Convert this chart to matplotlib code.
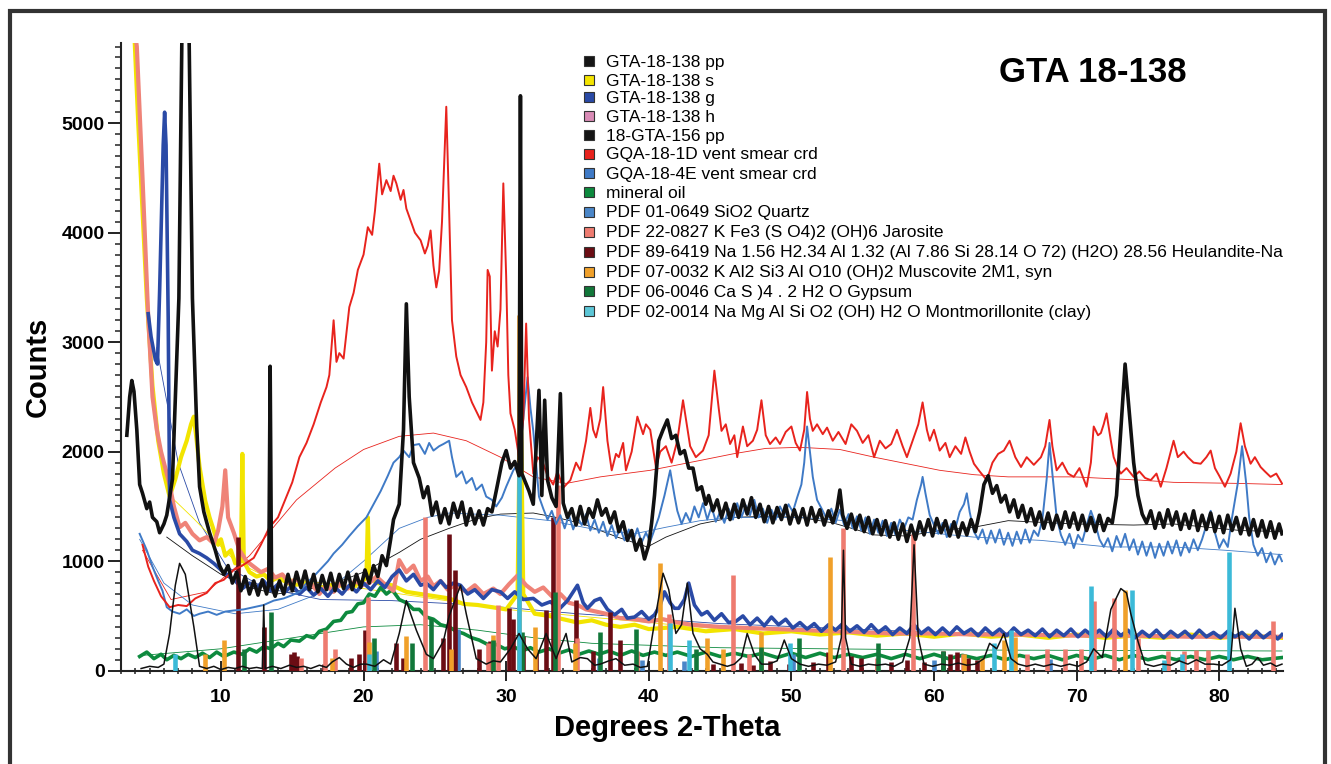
import matplotlib
matplotlib.use("Agg")
from matplotlib import pyplot as plt
from matplotlib.ticker import MultipleLocator
from matplotlib.patches import Rectangle
from matplotlib.lines import Line2D

plt.rcParams['font.family'] = ['Liberation Sans', 'DejaVu Sans']

# ---- measured patterns (2-theta, counts) ----
pp156 = [(3.4, 2150), (3.6, 2500), (3.75, 2650), (3.9, 2550), (4.1, 2200), (4.3, 1700), (4.5, 1620), (4.8, 1480),
         (5.0, 1540), (5.2, 1400), (5.5, 1360), (5.7, 1260), (6.0, 1340), (6.2, 1420), (6.6, 1750), (7.05, 3400),
         (7.5, 8500), (8.0, 3400), (8.3, 2230), (8.5, 1680), (8.8, 1450), (9.2, 1260), (9.6, 1100), (9.9, 960),
         (10.2, 880), (10.5, 960), (10.8, 800), (11.1, 900), (11.4, 730), (11.7, 860), (12.0, 700), (12.3, 820),
         (12.6, 690), (12.9, 830), (13.2, 700), (13.35, 790), (13.45, 2780), (13.55, 780), (13.8, 680),
         (14.1, 820), (14.4, 700), (14.7, 880), (15.0, 730), (15.3, 900), (15.6, 760), (15.9, 910), (16.2, 740),
         (16.5, 880), (16.8, 720), (17.1, 870), (17.4, 740), (17.7, 890), (18.0, 730), (18.3, 880), (18.6, 750),
         (18.9, 900), (19.2, 740), (19.5, 880), (19.8, 760), (20.1, 920), (20.4, 800), (20.7, 960), (21.0, 860),
         (21.3, 1050), (21.6, 960), (21.9, 1200), (22.1, 1380), (22.5, 1520), (22.8, 2200), (23.0, 3350),
         (23.2, 2500), (23.5, 1900), (23.9, 1760), (24.2, 1580), (24.5, 1680), (24.8, 1420), (25.1, 1540),
         (25.4, 1350), (25.7, 1480), (26.0, 1340), (26.3, 1530), (26.6, 1400), (26.9, 1540), (27.2, 1330),
         (27.5, 1480), (27.8, 1340), (28.1, 1460), (28.4, 1330), (28.7, 1480), (29.0, 1450), (29.3, 1640),
         (29.7, 1900), (30.0, 2010), (30.3, 1850), (30.6, 1910), (30.9, 1780), (31.0, 5250), (31.1, 1800),
         (31.6, 1640), (31.9, 1520), (32.3, 2560), (32.5, 1600), (32.7, 2470), (32.9, 1740), (33.2, 1580),
         (33.5, 1500), (33.8, 2530), (34.0, 1530), (34.3, 1400), (34.6, 1480), (34.9, 1330), (35.2, 1500),
         (35.5, 1340), (35.8, 1480), (36.1, 1400), (36.4, 1560), (36.7, 1420), (37.0, 1480), (37.3, 1350),
         (37.6, 1450), (37.9, 1270), (38.2, 1360), (38.5, 1190), (38.8, 1280), (39.1, 1100), (39.4, 1200),
         (39.7, 1020), (40.0, 1150), (40.2, 1350), (40.4, 1600), (40.7, 2100), (41.0, 2200), (41.3, 2290),
         (41.6, 2120), (41.9, 2150), (42.2, 1980), (42.5, 2010), (42.8, 1850), (43.1, 1850), (43.4, 1650),
         (43.7, 1680), (44.0, 1520), (44.2, 1600), (44.5, 1460), (44.8, 1560), (45.1, 1400), (45.4, 1530),
         (45.7, 1380), (46.0, 1520), (46.3, 1400), (46.6, 1560), (46.9, 1430), (47.2, 1580), (47.5, 1400),
         (47.8, 1520), (48.1, 1360), (48.4, 1500), (48.7, 1350), (49.0, 1490), (49.3, 1380), (49.6, 1510),
         (49.9, 1340), (50.2, 1470), (50.5, 1350), (50.8, 1480), (51.1, 1330), (51.4, 1490), (51.7, 1360),
         (52.0, 1470), (52.3, 1330), (52.6, 1460), (52.9, 1350), (53.2, 1480), (53.4, 1650), (53.6, 1420),
         (53.9, 1300), (54.2, 1430), (54.5, 1290), (54.8, 1420), (55.1, 1270), (55.4, 1400), (55.7, 1250),
         (56.0, 1380), (56.3, 1240), (56.6, 1370), (56.9, 1220), (57.2, 1350), (57.5, 1200), (57.8, 1340),
         (58.1, 1180), (58.4, 1330), (58.7, 1200), (59.0, 1360), (59.3, 1240), (59.6, 1380), (59.9, 1230),
         (60.2, 1390), (60.5, 1260), (60.8, 1370), (61.1, 1230), (61.4, 1360), (61.7, 1220), (62.0, 1350),
         (62.3, 1240), (62.6, 1380), (62.9, 1270), (63.2, 1450), (63.5, 1700), (63.8, 1780), (64.1, 1620),
         (64.4, 1690), (64.7, 1540), (65.0, 1600), (65.3, 1450), (65.6, 1560), (65.9, 1400), (66.2, 1510),
         (66.5, 1360), (66.8, 1480), (67.1, 1330), (67.4, 1450), (67.7, 1300), (68.0, 1440), (68.3, 1290),
         (68.6, 1420), (68.9, 1300), (69.2, 1450), (69.5, 1310), (69.8, 1440), (70.1, 1290), (70.4, 1420),
         (70.7, 1280), (71.0, 1400), (71.3, 1270), (71.6, 1420), (71.9, 1280), (72.2, 1390), (72.5, 1350),
         (72.8, 1600), (73.1, 2200), (73.4, 2800), (73.7, 2350), (74.0, 1900), (74.3, 1600), (74.6, 1430),
         (74.9, 1350), (75.2, 1460), (75.5, 1300), (75.8, 1440), (76.1, 1310), (76.4, 1470), (76.7, 1330),
         (77.0, 1450), (77.3, 1290), (77.6, 1430), (77.9, 1300), (78.2, 1460), (78.5, 1280), (78.8, 1420),
         (79.1, 1290), (79.4, 1440), (79.7, 1270), (80.0, 1410), (80.3, 1260), (80.6, 1420), (80.9, 1280),
         (81.2, 1400), (81.5, 1250), (81.8, 1390), (82.1, 1240), (82.4, 1380), (82.7, 1230), (83.0, 1370),
         (83.3, 1220), (83.6, 1360), (83.9, 1210), (84.2, 1340), (84.4, 1250)]

pp138 = [(4.4, 20), (5.0, 40), (5.6, 30), (6.0, 60), (6.4, 340), (6.8, 780), (7.1, 980), (7.5, 880), (7.8, 640),
         (8.1, 400), (8.5, 40), (9.0, 20), (9.5, 40), (10.0, 10), (10.5, 30), (11.0, 20), (11.5, 40), (12.0, 20),
         (12.5, 30), (12.9, 20), (13.0, 600), (13.1, 20), (13.6, 40), (14.2, 20), (14.8, 50), (15.3, 30), (15.8, 40),
         (16.3, 20), (16.9, 50), (17.4, 30), (17.8, 80), (18.3, 120), (18.8, 60), (19.3, 30), (19.8, 60), (20.2, 60),
         (20.8, 40), (21.4, 100), (21.9, 60), (22.5, 340), (23.0, 640), (23.3, 520), (23.7, 370), (24.4, 150),
         (24.9, 110), (25.6, 270), (26.0, 500), (26.8, 780), (27.2, 520), (27.9, 110), (28.6, 60), (29.1, 90),
         (29.6, 80), (30.3, 200), (30.9, 340), (31.5, 200), (32.1, 110), (32.8, 340), (33.5, 110), (34.2, 340),
         (34.6, 80), (35.2, 120), (35.7, 110), (36.2, 50), (36.6, 60), (37.2, 90), (37.7, 110), (38.3, 50),
         (38.9, 60), (39.4, 30), (39.9, 40), (40.5, 520), (41.0, 890), (41.4, 740), (41.9, 340), (42.3, 420),
         (42.7, 800), (43.1, 340), (43.6, 200), (44.1, 150), (44.5, 80), (45.0, 60), (45.5, 40), (46.0, 60),
         (46.5, 120), (46.9, 340), (47.4, 150), (47.9, 60), (48.4, 60), (49.0, 90), (49.5, 280), (50.0, 110),
         (50.6, 60), (51.2, 40), (51.9, 60), (52.5, 50), (53.1, 80), (53.5, 300), (53.65, 1100), (53.8, 300),
         (54.2, 60), (54.8, 40), (55.4, 60), (56.0, 50), (56.6, 60), (57.2, 40), (57.8, 80), (58.3, 300),
         (58.6, 1150), (58.9, 300), (59.3, 60), (59.9, 40), (60.5, 60), (61.1, 50), (61.7, 70), (62.3, 50),
         (62.9, 60), (63.5, 110), (63.9, 250), (64.4, 200), (64.9, 340), (65.4, 110), (65.9, 60), (66.5, 40),
         (67.1, 60), (67.7, 40), (68.3, 60), (68.9, 40), (69.5, 60), (70.1, 40), (70.7, 80), (71.2, 200),
         (71.8, 120), (72.4, 560), (73.1, 750), (73.5, 710), (73.8, 520), (74.3, 270), (74.8, 60), (75.4, 40),
         (76.0, 60), (76.6, 50), (77.2, 90), (77.8, 60), (78.4, 100), (79.0, 60), (79.6, 60), (80.2, 50),
         (80.8, 100), (81.1, 570), (81.5, 200), (81.9, 40), (82.3, 60), (82.7, 120), (83.1, 50), (83.6, 70),
         (84.0, 40), (84.4, 60)]

vent_1d = [(4.5, 1150), (4.9, 950), (5.3, 820), (5.8, 680), (6.4, 580), (7.0, 600), (7.6, 590), (8.2, 660),
           (9.0, 710), (9.6, 800), (10.2, 830), (10.9, 920), (11.5, 960), (12.3, 1030), (12.8, 1150), (13.4, 1310),
           (14.0, 1400), (14.5, 1560), (15.0, 1720), (15.5, 1950), (16.0, 2080), (16.5, 2250), (17.0, 2450),
           (17.4, 2590), (17.6, 2700), (17.9, 3200), (18.1, 2820), (18.3, 2900), (18.6, 2850), (19.0, 3320),
           (19.3, 3450), (19.6, 3660), (20.0, 3800), (20.3, 4050), (20.6, 3980), (20.8, 4200), (21.1, 4630),
           (21.3, 4350), (21.6, 4480), (21.9, 4380), (22.1, 4520), (22.3, 4450), (22.6, 4300), (22.8, 4390),
           (23.0, 4220), (23.3, 4110), (23.6, 4000), (24.0, 3930), (24.3, 3810), (24.5, 3880), (24.7, 4020),
           (24.9, 3700), (25.1, 3500), (25.3, 3650), (25.5, 4100), (25.8, 5150), (26.0, 4200), (26.2, 3200),
           (26.5, 2870), (26.8, 2700), (27.2, 2590), (27.6, 2450), (28.2, 2290), (28.4, 2450), (28.6, 3000),
           (28.7, 3660), (28.85, 3600), (29.0, 2740), (29.2, 3100), (29.4, 2960), (29.6, 3300), (29.8, 4450),
           (30.0, 3600), (30.15, 2700), (30.3, 2350), (30.6, 2200), (30.9, 1950), (31.2, 2300), (31.4, 3170),
           (31.6, 2300), (31.9, 1800), (32.2, 1950), (32.6, 1890), (32.9, 1780), (33.3, 1700), (33.6, 1820),
           (34.0, 1670), (34.5, 1740), (34.9, 1900), (35.2, 1830), (35.6, 2100), (35.9, 2400), (36.1, 2200),
           (36.3, 2130), (36.6, 2300), (36.8, 2590), (37.1, 2100), (37.4, 1830), (37.7, 1980), (37.9, 1950),
           (38.2, 2080), (38.4, 1830), (38.8, 2000), (39.2, 2320), (39.6, 2160), (39.8, 2250), (40.1, 2200),
           (40.5, 1860), (40.8, 2000), (41.2, 2050), (41.6, 1900), (42.0, 2100), (42.4, 2470), (42.6, 2300),
           (42.9, 2050), (43.3, 1950), (43.8, 2010), (44.2, 2150), (44.6, 2740), (44.9, 2400), (45.1, 2190),
           (45.4, 2250), (45.7, 2070), (46.0, 2150), (46.2, 1950), (46.6, 2230), (46.9, 2050), (47.3, 2100),
           (47.6, 2200), (47.9, 2470), (48.2, 2150), (48.5, 2070), (48.9, 2130), (49.2, 2070), (49.6, 2180),
           (50.0, 2230), (50.3, 2080), (50.6, 2010), (50.9, 2200), (51.1, 2545), (51.3, 2300), (51.5, 2190),
           (51.8, 2250), (52.2, 2160), (52.5, 2220), (52.9, 2100), (53.3, 2180), (53.8, 2070), (54.2, 2250),
           (54.6, 2190), (55.0, 2080), (55.4, 2150), (55.8, 1950), (56.2, 2100), (56.6, 2030), (57.0, 2070),
           (57.4, 2200), (57.8, 2050), (58.1, 1950), (58.5, 2100), (58.9, 2250), (59.2, 2450), (59.5, 2200),
           (59.7, 2100), (60.0, 2200), (60.4, 2010), (60.8, 2080), (61.1, 1950), (61.5, 2050), (61.9, 1980),
           (62.2, 2130), (62.5, 2000), (62.8, 1890), (63.2, 1820), (63.7, 1740), (64.1, 1900), (64.5, 1980),
           (64.9, 2010), (65.3, 2100), (65.7, 1950), (66.1, 1860), (66.5, 1950), (67.0, 1880), (67.5, 1950),
           (67.8, 2050), (68.1, 2290), (68.3, 2050), (68.6, 1830), (69.0, 1900), (69.4, 1800), (69.8, 1770),
           (70.2, 1850), (70.7, 1680), (71.0, 1900), (71.2, 2230), (71.5, 2150), (71.7, 2170), (71.9, 2250),
           (72.1, 2350), (72.4, 2100), (72.6, 1950), (72.9, 1850), (73.1, 1800), (73.5, 1850), (74.0, 1770),
           (74.4, 1820), (74.8, 1760), (75.2, 1740), (75.6, 1800), (75.9, 1680), (76.3, 1850), (76.6, 2000),
           (76.8, 2100), (77.1, 1950), (77.5, 2000), (77.8, 1950), (78.2, 1900), (78.7, 1890), (79.1, 1950),
           (79.4, 2010), (79.7, 1850), (80.0, 1780), (80.4, 1680), (80.8, 1800), (81.2, 2000), (81.5, 2260),
           (81.8, 2050), (82.2, 1890), (82.5, 1950), (82.9, 1860), (83.2, 1820), (83.6, 1770), (84.0, 1800),
           (84.4, 1710)]

vent_4e = [(4.3, 1250), (4.5, 1190), (4.8, 1100), (5.2, 950), (5.6, 820), (5.9, 730), (6.2, 580), (6.6, 540),
           (7.1, 520), (7.6, 560), (8.1, 500), (8.5, 520), (9.1, 540), (9.7, 510), (10.3, 540), (10.9, 550),
           (11.6, 560), (12.3, 580), (13.0, 600), (13.7, 640), (14.4, 660), (15.0, 690), (15.5, 720), (16.0, 800),
           (16.5, 860), (17.0, 930), (17.5, 1000), (17.9, 1070), (18.5, 1150), (19.0, 1230), (19.6, 1320),
           (20.2, 1400), (20.7, 1520), (21.2, 1640), (21.7, 1780), (22.1, 1900), (22.5, 1950), (22.8, 2010),
           (23.2, 1950), (23.5, 2060), (23.9, 2070), (24.3, 1980), (24.6, 2080), (24.9, 2010), (25.3, 2050),
           (25.6, 2070), (26.0, 2100), (26.2, 1950), (26.5, 1770), (26.9, 1820), (27.2, 1710), (27.6, 1760),
           (27.9, 1650), (28.3, 1700), (28.6, 1590), (29.0, 1560), (29.3, 1500), (29.7, 1580), (30.0, 1680),
           (30.5, 1830), (30.9, 1900), (31.2, 2300), (31.5, 2680), (31.7, 2400), (31.9, 2190), (32.3, 1590),
           (32.6, 1480), (32.9, 1380), (33.2, 1460), (33.5, 1340), (33.8, 1420), (34.1, 1300), (34.4, 1420),
           (34.7, 1290), (35.0, 1400), (35.3, 1330), (35.6, 1430), (35.9, 1280), (36.2, 1380), (36.5, 1260),
           (36.8, 1360), (37.1, 1230), (37.4, 1330), (37.7, 1210), (38.0, 1300), (38.3, 1190), (38.6, 1290),
           (38.9, 1180), (39.2, 1300), (39.5, 1170), (39.8, 1260), (40.1, 1180), (40.4, 1290), (40.7, 1400),
           (41.1, 1600), (41.5, 1830), (41.8, 1600), (42.0, 1460), (42.3, 1340), (42.6, 1440), (42.9, 1360),
           (43.2, 1500), (43.5, 1400), (43.8, 1530), (44.1, 1380), (44.4, 1500), (44.7, 1360), (45.0, 1450),
           (45.3, 1350), (45.6, 1480), (45.9, 1380), (46.2, 1530), (46.5, 1400), (46.8, 1510), (47.1, 1420),
           (47.4, 1560), (47.7, 1400), (48.0, 1480), (48.3, 1350), (48.6, 1470), (48.9, 1380), (49.2, 1500),
           (49.5, 1420), (49.8, 1520), (50.1, 1450), (50.4, 1580), (50.7, 1700), (50.9, 1900), (51.1, 2230),
           (51.3, 2000), (51.5, 1770), (51.8, 1560), (52.2, 1460), (52.5, 1380), (52.8, 1480), (53.1, 1350),
           (53.4, 1470), (53.7, 1330), (54.0, 1430), (54.3, 1300), (54.6, 1410), (54.9, 1280), (55.2, 1400),
           (55.5, 1250), (55.8, 1380), (56.1, 1260), (56.4, 1370), (56.7, 1230), (57.0, 1350), (57.3, 1240),
           (57.6, 1380), (57.9, 1300), (58.2, 1400), (58.5, 1380), (58.8, 1560), (59.1, 1700), (59.2, 1770),
           (59.4, 1620), (59.7, 1420), (60.0, 1330), (60.3, 1250), (60.6, 1350), (60.9, 1220), (61.2, 1340),
           (61.5, 1300), (61.8, 1450), (62.1, 1520), (62.3, 1620), (62.5, 1450), (62.8, 1270), (63.1, 1200),
           (63.4, 1290), (63.7, 1160), (64.0, 1280), (64.3, 1170), (64.6, 1290), (64.9, 1150), (65.2, 1260),
           (65.5, 1140), (65.8, 1270), (66.1, 1160), (66.4, 1290), (66.7, 1170), (67.0, 1280), (67.3, 1230),
           (67.6, 1380), (67.9, 1750), (68.1, 2080), (68.3, 1800), (68.6, 1400), (68.9, 1240), (69.2, 1150),
           (69.5, 1250), (69.8, 1120), (70.1, 1240), (70.4, 1180), (70.7, 1330), (71.0, 1460), (71.3, 1350),
           (71.6, 1200), (71.9, 1130), (72.2, 1210), (72.5, 1090), (72.8, 1230), (73.1, 1130), (73.4, 1250),
           (73.7, 1100), (74.0, 1200), (74.3, 1060), (74.6, 1180), (74.9, 1050), (75.2, 1170), (75.5, 1030),
           (75.8, 1160), (76.1, 1050), (76.4, 1180), (76.7, 1070), (77.0, 1190), (77.3, 1050), (77.6, 1170),
           (77.9, 1080), (78.2, 1200), (78.5, 1100), (78.8, 1200), (79.1, 1330), (79.4, 1460), (79.7, 1260),
           (80.0, 1120), (80.3, 1200), (80.6, 1130), (80.9, 1400), (81.3, 1710), (81.6, 2050), (81.9, 1700),
           (82.1, 1400), (82.4, 1150), (82.7, 1050), (83.0, 1120), (83.3, 990), (83.6, 1080), (83.9, 970),
           (84.2, 1060), (84.4, 1000)]

gta_g = [(4.9, 3260), (5.1, 3050), (5.4, 2840), (5.55, 2800), (5.7, 3470), (5.95, 4800), (6.05, 5100),
         (6.15, 4800), (6.3, 3230), (6.4, 1560), (6.7, 1400), (7.1, 1250), (7.6, 1180), (8.0, 1100), (8.5, 1070),
         (9.0, 1030), (9.5, 980), (10.0, 920), (10.4, 880), (11.0, 820), (11.5, 750), (12.0, 800), (12.5, 760),
         (13.0, 820), (13.5, 730), (14.0, 790), (14.5, 720), (15.0, 780), (15.5, 700), (16.0, 760), (16.5, 690),
         (17.0, 750), (17.5, 680), (18.0, 760), (18.5, 700), (19.0, 780), (19.5, 720), (20.0, 800), (20.5, 740),
         (21.0, 820), (21.5, 760), (22.0, 860), (22.5, 920), (23.0, 820), (23.5, 880), (24.0, 780), (24.4, 800),
         (24.9, 740), (25.4, 820), (25.8, 760), (26.3, 800), (26.8, 780), (27.3, 700), (27.8, 740), (28.4, 660),
         (29.0, 740), (29.6, 720), (30.1, 660), (30.6, 720), (31.2, 650), (31.9, 660), (32.5, 600), (33.1, 630),
         (33.7, 560), (34.3, 640), (35.0, 780), (35.4, 620), (35.7, 570), (36.2, 640), (36.6, 660), (37.1, 560),
         (37.6, 510), (38.1, 560), (38.5, 480), (39.0, 490), (39.5, 540), (40.0, 470), (40.4, 510), (40.8, 600),
         (41.1, 720), (41.5, 620), (41.8, 570), (42.1, 570), (42.5, 650), (42.8, 800), (43.2, 600), (43.7, 510),
         (44.1, 540), (44.6, 460), (45.1, 520), (45.6, 440), (46.1, 450), (46.6, 500), (47.1, 420), (47.6, 480),
         (48.1, 410), (48.6, 490), (49.1, 420), (49.6, 470), (50.1, 390), (50.6, 440), (51.1, 380), (51.6, 430),
         (52.1, 360), (52.6, 420), (53.1, 370), (53.6, 430), (54.1, 360), (54.6, 410), (55.1, 350), (55.6, 420),
         (56.1, 350), (56.6, 400), (57.1, 330), (57.6, 390), (58.1, 340), (58.6, 420), (59.1, 340), (59.6, 390),
         (60.1, 330), (60.6, 390), (61.1, 330), (61.6, 400), (62.1, 340), (62.6, 380), (63.1, 320), (63.6, 390),
         (64.1, 330), (64.6, 380), (65.1, 320), (65.6, 390), (66.1, 330), (66.6, 370), (67.1, 320), (67.6, 380),
         (68.1, 310), (68.6, 370), (69.1, 320), (69.6, 380), (70.1, 310), (70.6, 370), (71.1, 320), (71.6, 370),
         (72.1, 310), (72.6, 380), (73.1, 320), (73.6, 370), (74.1, 300), (74.6, 360), (75.1, 310), (75.6, 370),
         (76.1, 300), (76.6, 360), (77.1, 310), (77.6, 360), (78.1, 300), (78.6, 370), (79.1, 310), (79.6, 350),
         (80.1, 300), (80.6, 360), (81.1, 310), (81.6, 350), (82.1, 290), (82.6, 360), (83.1, 300), (83.6, 350),
         (84.1, 290), (84.4, 330)]

gta_s = [(3.9, 5900), (4.2, 5000), (4.5, 4200), (4.8, 3400), (5.2, 2600), (5.6, 2100), (6.0, 1800), (6.4, 1590),
         (6.8, 1750), (7.2, 1950), (7.6, 2100), (7.9, 2250), (8.1, 2320), (8.3, 2100), (8.5, 1860), (8.9, 1550),
         (9.2, 1400), (9.5, 1280), (9.8, 1150), (10.0, 1200), (10.3, 1050), (10.7, 1100), (11.0, 980), (11.4, 1000),
         (11.5, 1980), (11.6, 1000), (12.0, 900), (12.5, 860), (13.0, 880), (13.5, 820), (14.0, 850), (15.0, 780),
         (16.0, 800), (17.0, 760), (18.0, 790), (19.0, 760), (19.8, 800), (20.2, 850), (20.3, 1400), (20.4, 850),
         (21.0, 800), (22.0, 780), (23.0, 720), (24.0, 700), (25.0, 680), (26.0, 660), (27.0, 610), (28.0, 600),
         (29.0, 580), (30.0, 560), (30.8, 700), (31.0, 2700), (31.2, 700), (32.0, 520), (33.0, 500), (34.0, 470),
         (35.0, 440), (36.0, 460), (37.0, 420), (38.0, 400), (39.0, 420), (40.0, 380), (42.0, 400), (44.0, 360),
         (46.0, 380), (48.0, 340), (50.0, 360), (52.0, 330), (54.0, 350), (56.0, 320), (58.0, 340), (60.0, 310),
         (62.0, 340), (64.0, 310), (66.0, 330), (68.0, 300), (70.0, 330), (72.0, 300), (74.0, 320), (76.0, 300),
         (78.0, 330), (80.0, 300), (82.0, 320), (84.4, 300)]

gta_h = [(3.8, 6000), (4.1, 5700), (4.5, 4500), (4.9, 3230), (5.2, 2500), (5.5, 2200), (5.8, 2000), (6.1, 1850),
         (6.4, 1700), (6.7, 1500), (7.1, 1310), (7.5, 1350), (8.0, 1250), (8.5, 1190), (9.0, 1220), (9.5, 1160),
         (9.8, 1280), (10.1, 1500), (10.3, 1830), (10.5, 1400), (10.9, 1260), (11.3, 1100), (11.8, 1000),
         (12.3, 950), (12.8, 900), (13.3, 930), (13.8, 850), (14.3, 880), (14.8, 800), (15.3, 840), (15.8, 760),
         (16.3, 800), (16.9, 700), (17.4, 780), (17.9, 720), (18.4, 800), (18.9, 750), (19.4, 820), (19.9, 780),
         (20.4, 800), (20.9, 860), (21.4, 800), (22.1, 730), (22.5, 1010), (23.0, 900), (23.5, 960), (24.0, 820),
         (24.5, 860), (24.9, 770), (25.4, 820), (25.9, 740), (26.4, 780), (27.2, 720), (27.8, 780), (28.4, 700),
         (29.1, 750), (29.6, 700), (30.2, 790), (30.8, 870), (31.4, 780), (32.0, 720), (32.6, 760), (33.2, 680),
         (33.8, 700), (34.4, 620), (35.0, 600), (35.6, 560), (36.3, 540), (37.0, 520), (38.0, 480), (39.0, 470),
         (40.0, 450), (41.0, 470), (42.0, 440), (43.0, 420), (45.0, 400), (47.0, 390), (49.0, 380), (51.0, 370),
         (53.0, 360), (55.0, 350), (57.0, 340), (60.0, 340), (63.0, 330), (66.0, 330), (70.0, 320), (74.0, 320),
         (78.0, 310), (82.0, 310), (84.4, 310)]

oil = [(4.3, 130), (4.8, 170), (5.3, 110), (5.8, 150), (6.2, 100), (6.7, 140), (7.2, 110), (7.7, 150), (8.2, 120),
       (8.7, 160), (9.2, 120), (9.7, 170), (10.2, 130), (10.9, 170), (11.5, 150), (12.0, 200), (12.5, 170),
       (13.0, 220), (13.5, 200), (14.0, 250), (14.4, 220), (14.9, 280), (15.5, 270), (16.0, 320), (16.5, 300),
       (16.9, 360), (17.4, 380), (17.9, 450), (18.4, 460), (18.8, 530), (19.2, 540), (19.6, 610), (20.0, 620),
       (20.4, 700), (20.8, 680), (21.2, 760), (21.6, 700), (22.0, 740), (22.5, 650), (23.0, 620), (23.5, 560),
       (23.9, 560), (24.4, 490), (24.9, 470), (25.4, 420), (26.0, 400), (26.5, 360), (27.0, 340), (27.6, 300),
       (28.1, 280), (28.7, 240), (29.3, 240), (29.9, 200), (30.5, 220), (31.1, 180), (31.7, 210), (32.3, 170),
       (33.0, 200), (33.7, 160), (34.4, 190), (35.1, 150), (35.8, 180), (36.5, 150), (37.2, 180), (38.0, 140),
       (38.8, 180), (39.6, 140), (40.4, 170), (41.2, 140), (42.0, 170), (43.0, 130), (44.0, 170), (45.0, 130),
       (46.0, 160), (47.0, 130), (48.0, 160), (49.0, 120), (50.0, 160), (51.0, 120), (52.0, 160), (53.0, 120),
       (54.0, 150), (55.0, 120), (56.0, 150), (57.0, 110), (58.0, 150), (59.0, 110), (60.0, 150), (61.0, 110),
       (62.0, 140), (63.0, 110), (64.0, 140), (65.0, 100), (66.0, 140), (67.0, 110), (68.0, 140), (69.0, 100),
       (70.0, 140), (71.0, 100), (72.0, 140), (73.0, 100), (74.0, 140), (75.0, 100), (76.0, 130), (77.0, 100),
       (78.0, 130), (79.0, 100), (80.0, 130), (81.0, 100), (82.0, 130), (83.0, 100), (84.4, 120)]

# fitted backgrounds
bg_1d = [(4.5, 1100), (6.5, 650), (9.0, 720), (12.0, 1050), (15.3, 1560), (18.0, 1850), (20.0, 2020), (22.5, 2140),
         (24.9, 2170), (27.2, 2100), (29.6, 1950), (31.9, 1770), (34.2, 1710), (36.6, 1770), (40.1, 1830),
         (43.6, 1920), (45.9, 1980), (48.2, 2030), (50.6, 2040), (53.4, 2020), (55.8, 1950), (58.1, 1890),
         (60.4, 1830), (62.8, 1790), (65.2, 1770), (69.8, 1770), (74.5, 1740), (76.8, 1720), (81.5, 1710),
         (84.4, 1700)]
bg_156 = [(6.2, 1220), (8.0, 1050), (10.0, 880), (12.0, 760), (13.9, 700), (16.0, 740), (18.0, 800), (20.0, 900),
          (22.5, 1080), (24.0, 1200), (26.0, 1300), (28.0, 1390), (29.6, 1430), (31.9, 1440), (33.5, 1400),
          (35.4, 1340), (37.8, 1220), (39.9, 1130), (41.2, 1220), (43.6, 1340), (45.9, 1400), (48.2, 1410),
          (50.6, 1400), (52.9, 1350), (55.8, 1240), (58.1, 1230), (60.4, 1280), (62.8, 1310), (65.2, 1370),
          (69.8, 1340), (74.0, 1330), (76.8, 1340), (79.2, 1310), (81.5, 1280), (84.4, 1270)]
bg_4e = [(4.3, 1200), (6.0, 800), (8.0, 600), (11.0, 520), (14.0, 560), (17.6, 740), (20.0, 1000), (22.5, 1300),
         (24.5, 1400), (26.0, 1440), (29.6, 1420), (33.1, 1370), (36.6, 1280), (39.0, 1250), (41.2, 1310),
         (43.6, 1370), (45.9, 1400), (50.6, 1400), (53.8, 1370), (58.1, 1280), (62.8, 1220), (67.5, 1190),
         (72.2, 1130), (76.8, 1130), (80.4, 1100), (84.4, 1060)]
bg_g = [(5.5, 2950), (7.0, 1900), (8.5, 1350), (10.4, 950), (13.0, 760), (17.0, 650), (22.0, 640), (28.0, 600),
        (35.0, 520), (45.0, 430), (60.0, 350), (84.4, 320)]
bg_s = [(6.4, 1600), (8.0, 1400), (9.5, 1200), (11.0, 1000), (13.0, 870), (20.0, 750), (30.0, 560), (45.0, 380),
        (84.4, 300)]
bg_oil = [(4.5, 140), (10.0, 200), (15.0, 300), (20.0, 400), (24.0, 420), (28.0, 370), (32.0, 300), (36.0, 250),
          (45.0, 210), (60.0, 190), (84.4, 180)]

# reference patterns (2-theta, scaled intensity)
quartz = [(20.9, 180), (26.6, 380), (36.5, 120), (39.5, 100), (42.5, 90), (50.1, 150), (60.0, 100), (68.1, 110)]
jarosite = [(15.6, 120), (17.3, 370), (18.0, 200), (20.3, 670), (24.3, 1400), (28.7, 250), (29.4, 600),
            (33.6, 1700), (35.0, 300), (39.2, 180), (41.4, 520), (45.9, 870), (47.0, 150), (53.6, 1300),
            (56.0, 120), (58.5, 1250), (62.0, 150), (66.5, 150), (67.9, 200), (69.2, 200), (70.3, 200),
            (71.2, 640), (72.6, 660), (74.3, 300), (76.4, 180), (77.5, 180), (78.4, 190), (79.2, 190), (83.8, 450)]
heulandite = [(11.2, 1220), (13.0, 400), (14.9, 150), (15.1, 170), (15.3, 130), (17.2, 60), (19.1, 120),
              (19.7, 150), (20.1, 370), (22.3, 250), (22.8, 120), (25.6, 300), (26.0, 1250), (26.4, 920),
              (28.1, 200), (28.9, 270), (30.2, 570), (30.5, 470), (31.2, 320), (32.1, 180), (32.8, 550),
              (33.3, 1400), (34.9, 650), (36.1, 180), (37.3, 540), (38.0, 280), (44.5, 60), (46.5, 70), (47.3, 50),
              (48.5, 90), (49.8, 60), (51.5, 80), (52.6, 170), (54.2, 130), (54.9, 120), (56.0, 70), (57.0, 80),
              (58.1, 100), (59.3, 80), (60.6, 180), (61.1, 150), (61.6, 170), (62.4, 120), (63.0, 100)]
muscovite = [(8.9, 150), (10.2, 280), (17.8, 120), (20.4, 260), (23.0, 320), (26.1, 200), (29.1, 330), (30.9, 3250),
             (32.0, 400), (34.8, 250), (40.8, 980), (44.1, 300), (45.2, 200), (47.9, 350), (52.7, 1040), (62.1, 150),
             (63.4, 120), (64.9, 280), (65.7, 305), (73.4, 740)]
gypsum = [(11.6, 200), (13.5, 540), (20.7, 300), (23.4, 250), (24.7, 480), (29.1, 280), (31.1, 350), (33.4, 720),
          (36.6, 350), (39.1, 380), (43.3, 200), (47.9, 220), (50.5, 300), (56.1, 250), (60.6, 180)]
montmorillonite = [(6.8, 150), (20.4, 150), (30.9, 1800), (41.5, 440), (42.8, 280), (49.9, 250), (64.2, 250),
                   (65.4, 370), (71.0, 775), (73.9, 735), (76.1, 100), (77.4, 150), (80.7, 1080)]

labels = ["GTA-18-138 pp", "GTA-18-138 s", "GTA-18-138 g", "GTA-18-138 h", "18-GTA-156 pp",
          "GQA-18-1D vent smear crd", "GQA-18-4E vent smear crd", "mineral oil",
          "PDF 01-0649 SiO2 Quartz",
          "PDF 22-0827 K Fe3 (S O4)2 (OH)6 Jarosite",
          "PDF 89-6419 Na 1.56 H2.34 Al 1.32 (Al 7.86 Si 28.14 O 72) (H2O) 28.56 Heulandite-Na",
          "PDF 07-0032 K Al2 Si3 Al O10 (OH)2 Muscovite 2M1, syn",
          "PDF 06-0046 Ca S )4 . 2 H2 O Gypsum",
          "PDF 02-0014 Na Mg Al Si O2 (OH) H2 O Montmorillonite (clay)"]
legend_colors = ["#151515", "#f4e400", "#2a4aa6", "#d98bb6", "#151515", "#e8231d", "#3f7ac6", "#0d8a3e",
                 "#4a86c8", "#ee7b70", "#6b0d14", "#f0a02a", "#12773a", "#5cc6d6"]

C_BLACK = "#111111"
C_RED = "#e8231d"
C_BLUE = "#3f7ac6"
C_DBLUE = "#2a4aa6"
C_YEL = "#f2e400"
C_PINK = "#ef8378"
C_GREEN = "#0d8a3e"

W, H = 1331, 764
fig = plt.figure(figsize=(W / 100, H / 100), dpi=100)
ax = fig.add_axes([120.7 / W, 1 - 670.7 / H, (1283.4 - 120.7) / W, (670.7 - 43) / H])


def xy(pts):
    return [p[0] for p in pts], [p[1] for p in pts]


def sticks(pts, color):
    xs, hs = xy(pts)
    ax.vlines(xs, 0, hs, colors=color, lw=3.3, zorder=3)


# backgrounds
for pts, c in [(bg_1d, C_RED), (bg_156, C_BLACK), (bg_4e, C_BLUE), (bg_g, C_DBLUE), (bg_s, C_YEL),
               (bg_oil, C_GREEN)]:
    ax.plot(*xy(pts), color=c, lw=0.6, zorder=1.5)

ax.plot(*xy(oil), color=C_GREEN, lw=2.6, zorder=2)
ax.plot(*xy(gta_s), color=C_YEL, lw=3.0, zorder=2)
ax.plot(*xy(gta_h), color=C_PINK, lw=3.0, zorder=2.1)
ax.plot(*xy(gta_g), color=C_DBLUE, lw=2.6, zorder=2.2)

sticks(quartz, "#4a86c8")
sticks(heulandite, "#6b0d14")
sticks(jarosite, "#ee7b70")
sticks(muscovite, "#f0a02a")
sticks(gypsum, "#12773a")
sticks(montmorillonite, "#3cbad8")

ax.plot(*xy(vent_4e), color=C_BLUE, lw=1.4, zorder=4)
ax.plot(*xy(vent_1d), color=C_RED, lw=1.4, zorder=4.1)
ax.plot(*xy(pp156), color=C_BLACK, lw=2.6, zorder=4.2)
ax.plot(*xy(pp138), color=C_BLACK, lw=1.1, zorder=4.3)

ax.set_xlim(2.97, 84.5)
ax.set_ylim(0, 5732)
for s in ["top", "right"]:
    ax.spines[s].set_visible(False)
for s in ["left", "bottom"]:
    ax.spines[s].set_linewidth(1.5)
    ax.spines[s].set_color("#222222")
ax.xaxis.set_major_locator(MultipleLocator(10))
ax.xaxis.set_minor_locator(MultipleLocator(1))
ax.yaxis.set_major_locator(MultipleLocator(1000))
ax.yaxis.set_minor_locator(MultipleLocator(100))
ax.tick_params(axis="x", which="major", direction="inout", length=14, width=1.4, labelsize=14, pad=6,
               color="#222222")
ax.tick_params(axis="x", which="minor", direction="inout", length=5, width=1.1, color="#222222")
ax.tick_params(axis="y", which="major", direction="out", length=9.5, width=1.4, labelsize=14, pad=2,
               color="#222222")
ax.tick_params(axis="y", which="minor", direction="out", length=4, width=1.1, color="#222222")
for lab in ax.get_xticklabels() + ax.get_yticklabels():
    lab.set_fontweight("bold")

fig.text(38 / W, 1 - 367 / H, "Counts", rotation=90, fontsize=21, fontweight="bold", ha="center", va="center")
fig.text(667 / W, 1 - 728 / H, "Degrees 2-Theta", fontsize=21, fontweight="bold", ha="center", va="center")
fig.text(1093 / W, 1 - 73 / H, "GTA 18-138", fontsize=25, fontweight="bold", ha="center", va="center")

# legend
text_y = [62, 81, 98, 117, 136, 155, 174, 193, 213, 233, 253, 273, 292, 312]
for lab, c, ty in zip(labels, legend_colors, text_y):
    fig.text(606 / W, 1 - ty / H, lab, fontsize=12.5, ha="left", va="center")
    fig.add_artist(Line2D([589 / W], [1 - (ty - 1) / H], marker="s", markersize=6.5, color=c,
                          markeredgecolor="#333333", markeredgewidth=0.8, transform=fig.transFigure))

fig.add_artist(Rectangle((9.5 / W, -0.1), (1324.5 - 9.5) / W, 1.1 - 11.5 / H, transform=fig.transFigure,
                         fill=False, lw=3, edgecolor="#333333"))

fig.savefig("out.png", dpi=100)
